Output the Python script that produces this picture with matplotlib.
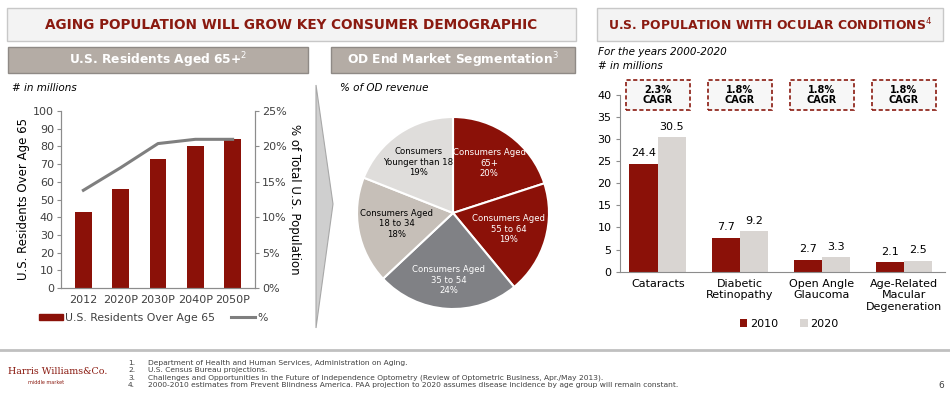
import numpy as np
import matplotlib.pyplot as plt
from matplotlib.patches import Rectangle, Polygon
from matplotlib.lines import Line2D

plt.rcParams['font.family'] = ['DejaVu Sans']

# данные: жители США старше 65 лет
years = ['2012', '2020P', '2030P', '2040P', '2050P']
residents_65 = [43, 56, 73, 80, 84]
share_65 = [13.8, 17.0, 20.4, 21.0, 21.0]

# данные: сегментация рынка OD
segments = ['Consumers Aged\n65+', 'Consumers Aged\n55 to 64', 'Consumers Aged\n35 to 54',
            'Consumers Aged\n18 to 34', 'Consumers\nYounger than 18']
segment_share = [20, 19, 24, 18, 19]

# данные: глазные заболевания
conditions = ['Cataracts', 'Diabetic\nRetinopathy', 'Open Angle\nGlaucoma',
              'Age-Related\nMacular\nDegeneration']
pop_2010 = [24.4, 7.7, 2.7, 2.1]
pop_2020 = [30.5, 9.2, 3.3, 2.5]
cagr = ['2.3%\nCAGR', '1.8%\nCAGR', '1.8%\nCAGR', '1.8%\nCAGR']

RED = '#8b1108'
MAROON = '#8a1a10'
GRAY_TXT = '#404040'
W, H = 950, 396

fig = plt.figure(figsize=(9.5, 3.96), dpi=100)


def fx(x):
    return x / W


def fy(y):
    return 1 - y / H


def box(x0, y0, x1, y1, fc, ec, lw=1.0):
    fig.patches.append(Rectangle((fx(x0), fy(y1)), fx(x1 - x0), (y1 - y0) / H,
                                 transform=fig.transFigure, fc=fc, ec=ec, lw=lw))


def axes_px(x0, y0, x1, y1):
    return fig.add_axes([fx(x0), fy(y1), fx(x1 - x0), (y1 - y0) / H])


# заголовки
box(7, 8, 576, 41, '#f3f3f3', '#c8c8c8')
box(597, 8, 943, 41, '#f3f3f3', '#c8c8c8')
fig.text(fx(291), fy(25), 'AGING POPULATION WILL GROW KEY CONSUMER DEMOGRAPHIC',
         ha='center', va='center', color=MAROON, fontsize=9.8, fontweight='bold')
fig.text(fx(770), fy(25), 'U.S. POPULATION WITH OCULAR CONDITIONS$^4$',
         ha='center', va='center', color=MAROON, fontsize=8.9, fontweight='bold')
box(8, 47, 308, 73, '#b4aca5', '#8f8a86')
box(331, 47, 575, 73, '#b4aca5', '#8f8a86')
fig.text(fx(158), fy(60), 'U.S. Residents Aged 65+$^2$', ha='center', va='center',
         color='white', fontsize=8.8, fontweight='bold')
fig.text(fx(453), fy(60), 'OD End Market Segmentation$^3$', ha='center', va='center',
         color='white', fontsize=8.8, fontweight='bold')

# стрелка-разделитель
fig.patches.append(Polygon([(fx(316), fy(85)), (fx(333), fy(204)), (fx(316), fy(328))],
                           closed=True, transform=fig.transFigure,
                           fc='#cfcfcf', ec='#a8a8a8', lw=0.8))

fig.text(fx(12), fy(88), '# in millions', style='italic', fontsize=7.5,
         color='black', va='center')
fig.text(fx(340), fy(88), '% of OD revenue', style='italic', fontsize=7.5,
         color='black', va='center')
fig.text(fx(598), fy(52), 'For the years 2000-2020', style='italic', fontsize=7.5,
         color='black', va='center')
fig.text(fx(598), fy(66), '# in millions', style='italic', fontsize=7.5,
         color='black', va='center')

# левый график
ax1 = axes_px(61, 111, 255, 288)
x = np.arange(len(years))
ax1.bar(x, residents_65, width=0.45, color=RED, zorder=2)
ax1.set_ylim(0, 100)
ax1.set_yticks(range(0, 101, 10))
ax1.set_xlim(-0.6, 4.6)
ax1.set_xticks(x, years)
ax1.set_ylabel('U.S. Residents Over Age 65', fontsize=8.5, color='black', labelpad=2)
ax2 = ax1.twinx()
ax2.plot(x, share_65, color='#7f7f7f', lw=2.2, zorder=3)
ax2.set_ylim(0, 25)
ax2.set_yticks(range(0, 26, 5), [f'{v}%' for v in range(0, 26, 5)])
ax2.set_ylabel('% of Total U.S. Population', rotation=-90, fontsize=8.5,
               color='black', labelpad=10)
for a in (ax1, ax2):
    a.spines['top'].set_visible(False)
    for s in ('left', 'right', 'bottom'):
        a.spines[s].set_color('#8c8c8c')
    a.tick_params(labelsize=8, colors='#8c8c8c', labelcolor=GRAY_TXT, length=3,
                  pad=2)
ax1.tick_params(axis='x', length=0, pad=5)
handles = [Rectangle((0, 0), 1, 1, color=RED),
           Line2D([], [], color='#7f7f7f', lw=2.2)]
ax1.legend(handles, ['U.S. Residents Over Age 65', '%'], ncol=2, frameon=False,
           loc='upper left', bbox_to_anchor=(-0.115, -0.14), fontsize=7.8,
           handlelength=2.2, handleheight=0.5, handletextpad=0.2,
           columnspacing=1.5, labelcolor=GRAY_TXT, borderaxespad=0, borderpad=0)

# круговая диаграмма
axp = axes_px(357, 117, 549, 309)
pie_colors = [RED, RED, '#808185', '#c6bfb8', '#dfdddb']
wedges, _ = axp.pie(segment_share, colors=pie_colors, startangle=90, counterclock=False,
                    wedgeprops=dict(edgecolor='white', linewidth=1.5))
axp.set_xlim(-1, 1)
axp.set_ylim(-1, 1)
txt_colors = ['white', 'white', 'white', 'black', 'black']
dists = [0.64, 0.6, 0.7, 0.6, 0.64]
for w, lab, pct, c, d in zip(wedges, segments, segment_share, txt_colors, dists):
    ang = np.deg2rad((w.theta1 + w.theta2) / 2)
    axp.text(d * np.cos(ang), d * np.sin(ang), f'{lab}\n{pct}%', ha='center',
             va='center', fontsize=6.1, color=c, linespacing=1.2)

# правый график
ax3 = axes_px(620, 94.8, 945, 271.7)
xc = np.arange(len(conditions))
bw = 0.345
b1 = ax3.bar(xc - bw / 2, pop_2010, width=bw, color=RED, label='2010')
b2 = ax3.bar(xc + bw / 2, pop_2020, width=bw, color='#d9d5d2', label='2020')
for bars in (b1, b2):
    for r in bars:
        ax3.text(r.get_x() + r.get_width() / 2, r.get_height() + 1.2,
                 f'{r.get_height():.1f}', ha='center', va='bottom', fontsize=8,
                 color='black')
for i, t in enumerate(cagr):
    ax3.add_patch(Rectangle((xc[i] - 0.39, 36.6), 0.78, 6.8, fc='#f7f7f7', ec=MAROON,
                            ls=(0, (2.5, 1.5)), lw=1.2, clip_on=False))
    ax3.text(xc[i], 40, t, ha='center', va='center', fontsize=7, fontweight='bold',
             color='black', linespacing=1.0, clip_on=False)
ax3.set_ylim(0, 40)
ax3.set_xlim(-0.46, 3.5)
ax3.set_yticks(range(0, 41, 5))
ax3.set_xticks(xc, conditions)
for s in ('top', 'right'):
    ax3.spines[s].set_visible(False)
ax3.spines['left'].set_color('#8c8c8c')
ax3.spines['bottom'].set_color('#8c8c8c')
ax3.tick_params(axis='y', labelsize=8, colors='#8c8c8c', labelcolor='black',
                length=3, pad=3)
ax3.tick_params(axis='x', labelsize=8, length=0, labelcolor='black', pad=5)
ax3.legend(ncol=2, frameon=False, loc='upper center', bbox_to_anchor=(0.52, -0.24),
           fontsize=8, handlelength=0.7, handleheight=0.7, handletextpad=0.2,
           columnspacing=2.0, borderaxespad=0)

# нижний колонтитул
fig.add_artist(Line2D([0, 1], [fy(350), fy(350)], color='#c0c0c0', lw=2,
                      transform=fig.transFigure))
fig.text(fx(8), fy(372), 'Harris Williams&Co.', family='DejaVu Serif', fontsize=6.8,
         color=MAROON, va='center')
fig.text(fx(28), fy(382), 'middle market', fontsize=3.5, color=MAROON, va='center')
notes = ['Department of Health and Human Services, Administration on Aging.',
         'U.S. Census Bureau projections.',
         'Challenges and Opportunities in the Future of Independence Optometry '
         '(Review of Optometric Business, Apr./May 2013).',
         '2000-2010 estimates from Prevent Blindness America. PAA projection to 2020 '
         'assumes disease incidence by age group will remain constant.']
for i, n in enumerate(notes):
    yy = fy(363 + i * 7.3)
    fig.text(fx(128), yy, f'{i + 1}.', fontsize=5.4, color=GRAY_TXT, va='center')
    fig.text(fx(148), yy, n, fontsize=5.4, color=GRAY_TXT, va='center')
fig.text(fx(938), fy(385), '6', fontsize=6.5, color=GRAY_TXT, va='center')

fig.savefig('out.png', dpi=100)
